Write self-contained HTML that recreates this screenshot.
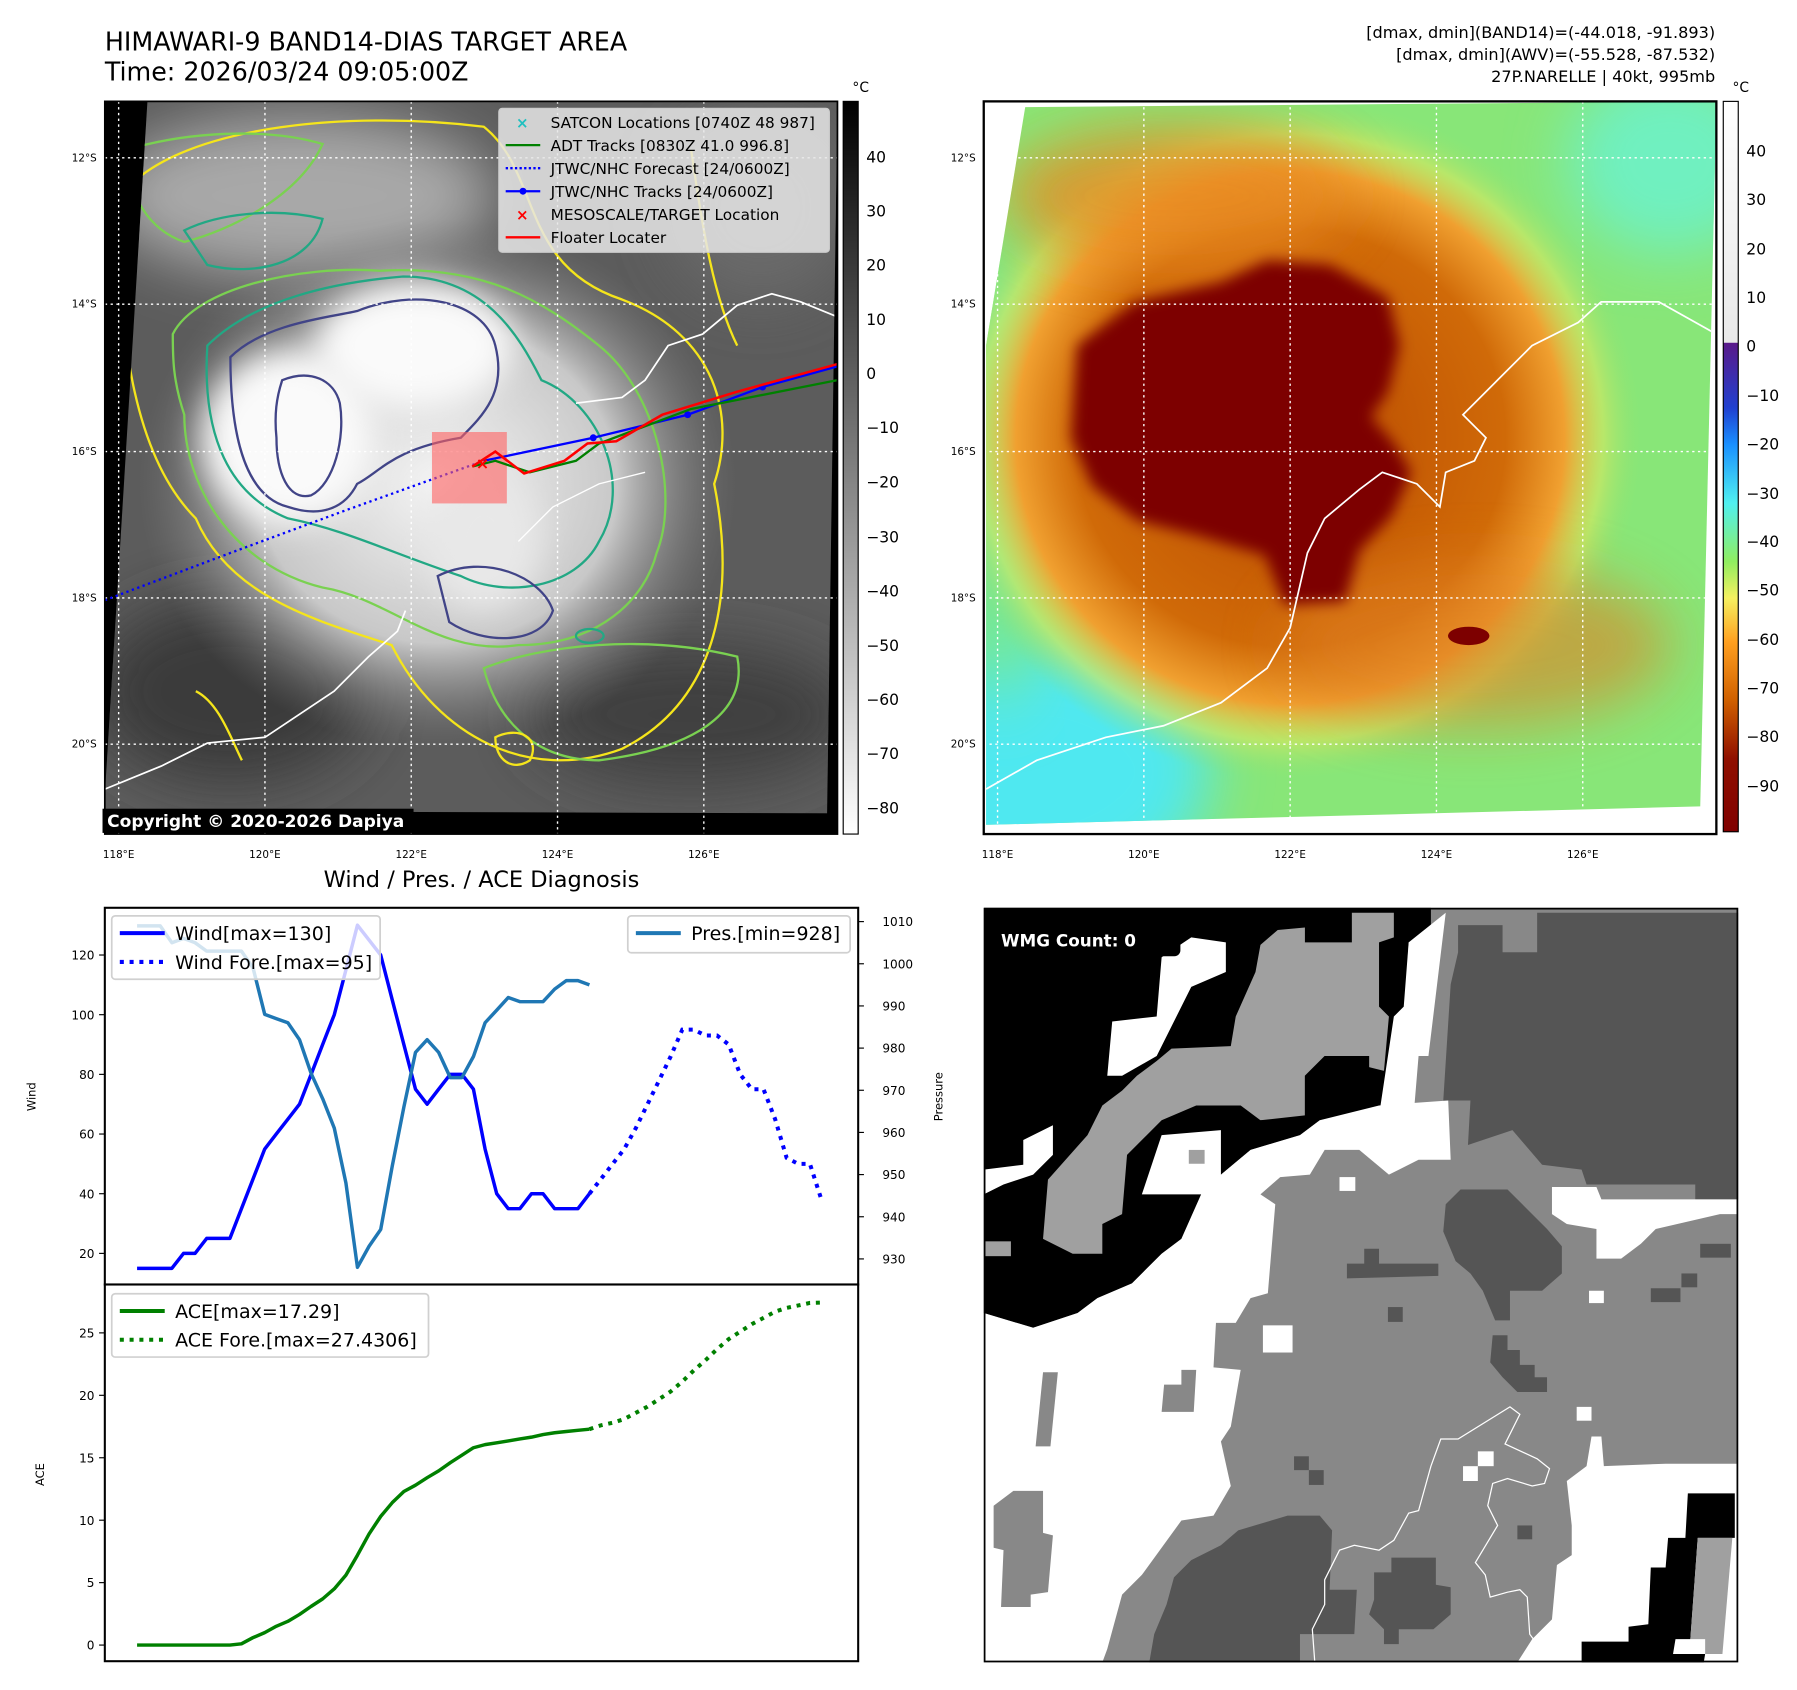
<!DOCTYPE html>
<html><head><meta charset="utf-8"><style>
html,body{margin:0;padding:0;background:#fff;}
svg{display:block;font-family:"DejaVu Sans","Liberation Sans",sans-serif;}
</style></head><body>
<svg id="root" width="1797" height="1690" viewBox="0 0 1560 1467" preserveAspectRatio="none" xmlns="http://www.w3.org/2000/svg">
<defs>
<filter id="b6" x="-20%" y="-20%" width="140%" height="140%"><feGaussianBlur stdDeviation="6"/></filter>
<filter id="b14" x="-30%" y="-30%" width="160%" height="160%"><feGaussianBlur stdDeviation="14"/></filter>
<filter id="b25" x="-40%" y="-40%" width="180%" height="180%"><feGaussianBlur stdDeviation="25"/></filter>
<linearGradient id="cbGray" x1="0" y1="0" x2="0" y2="1"><stop offset="0" stop-color="#000"/><stop offset="1" stop-color="#fff"/></linearGradient>
<linearGradient id="cbColor" x1="0" y1="0" x2="0" y2="1">
<stop offset="0" stop-color="#ffffff"/><stop offset="0.33" stop-color="#e8e8e8"/><stop offset="0.331" stop-color="#5a1a8a"/>
<stop offset="0.42" stop-color="#2040d0"/><stop offset="0.47" stop-color="#1a90ff"/><stop offset="0.55" stop-color="#50f0f0"/>
<stop offset="0.63" stop-color="#90ee60"/><stop offset="0.68" stop-color="#f5f060"/><stop offset="0.74" stop-color="#ffa020"/>
<stop offset="0.82" stop-color="#d06000"/><stop offset="0.90" stop-color="#901000"/><stop offset="1" stop-color="#800000"/></linearGradient>
<clipPath id="clipL"><polygon points="128,88 727,88 718,706 91,704 91,690"/></clipPath>
<clipPath id="clipR"><polygon points="890,93 1490,88 1476,700 856,716 856,300"/></clipPath>
<clipPath id="clipWmg"><rect x="0" y="0" width="1527" height="1527"/></clipPath>
<radialGradient id="ringG" cx="0.5" cy="0.5" r="0.5">
<stop offset="0" stop-color="#b84800"/><stop offset="0.55" stop-color="#d06a08"/><stop offset="0.7" stop-color="#f0a030"/><stop offset="0.8" stop-color="#d8e860" stop-opacity="0.6"/><stop offset="0.9" stop-color="#90e070" stop-opacity="0"/></radialGradient>
<radialGradient id="cloudG" cx="0.5" cy="0.5" r="0.5">
<stop offset="0" stop-color="#f4f4f4"/><stop offset="0.6" stop-color="#c8c8c8"/><stop offset="1" stop-color="#7a7a7a" stop-opacity="0"/></radialGradient>
</defs>

<text x="91" y="44" font-size="22">HIMAWARI-9 BAND14-DIAS TARGET AREA</text>
<text x="91" y="70" font-size="22">Time: 2026/03/24 09:05:00Z</text>
<text x="1489" y="33" font-size="14" text-anchor="end">[dmax, dmin](BAND14)=(-44.018, -91.893)</text>
<text x="1489" y="52" font-size="14" text-anchor="end">[dmax, dmin](AWV)=(-55.528, -87.532)</text>
<text x="1489" y="71" font-size="14" text-anchor="end">27P.NARELLE | 40kt, 995mb</text>

<g>
<rect x="91" y="88" width="636" height="636" fill="#000"/>
<g clip-path="url(#clipL)">
<rect x="80" y="80" width="660" height="660" fill="#5c5c5c"/>
<ellipse cx="200" cy="600" rx="120" ry="80" fill="#3a3a3a" filter="url(#b25)"/>
<ellipse cx="600" cy="620" rx="140" ry="60" fill="#404040" filter="url(#b25)"/>
<ellipse cx="660" cy="180" rx="80" ry="80" fill="#6a6a6a" filter="url(#b25)"/>
<ellipse cx="260" cy="170" rx="170" ry="70" fill="#a8a8a8" filter="url(#b25)"/>
<ellipse cx="380" cy="420" rx="260" ry="230" fill="url(#cloudG)"/>
<ellipse cx="250" cy="380" rx="75" ry="75" fill="#fafafa" filter="url(#b14)"/>
<ellipse cx="360" cy="300" rx="85" ry="55" fill="#fafafa" filter="url(#b14)"/>
<ellipse cx="420" cy="470" rx="50" ry="60" fill="#e8e8e8" filter="url(#b14)"/>
<g fill="none" stroke-width="2">
<path d="M105,170 C150,110 300,95 420,110 C470,150 450,230 540,260 C620,290 640,360 620,420 C640,520 620,610 540,650 C460,680 380,640 340,560 C280,540 200,520 170,450 C120,400 100,300 105,170 Z" stroke="#f5e51b"/>
<path d="M150,290 C170,250 260,230 330,235 C420,230 470,260 520,300 C570,340 590,430 570,480 C560,520 520,560 450,560 C380,570 340,520 280,510 C200,490 160,420 160,360 C150,330 150,310 150,290 Z" stroke="#7ad151"/>
<path d="M180,300 C220,260 290,245 350,240 C420,240 450,290 470,330 C520,350 550,420 520,470 C500,510 440,520 400,500 C340,480 300,460 250,450 C200,430 175,380 180,300 Z" stroke="#22a884"/>
<path d="M200,310 C230,280 290,275 310,270 C360,250 420,260 430,300 C440,340 420,360 400,380 C340,390 330,410 310,420 C300,440 280,450 250,440 C210,430 200,370 200,310 Z" stroke="#414487"/>
<path d="M245,330 C270,320 290,330 295,350 C300,380 290,420 270,430 C250,435 240,410 240,380 C238,360 240,345 245,330 Z" stroke="#414487"/>
<path d="M110,130 C160,115 230,110 280,125 C260,170 200,200 160,210 C130,200 110,170 110,130 Z" stroke="#7ad151"/>
<path d="M160,200 C190,185 240,180 280,190 C270,230 220,240 180,230 Z" stroke="#22a884"/>
<path d="M420,580 C470,560 560,550 640,570 C650,620 600,650 520,660 C460,660 430,620 420,580 Z" stroke="#7ad151"/>
<path d="M170,600 C190,610 200,640 210,660" stroke="#f5e51b"/>
<path d="M430,640 C450,630 470,640 460,660 C445,670 430,660 430,640 Z" stroke="#f5e51b"/>
<path d="M600,130 C610,200 620,260 640,300" stroke="#f5e51b"/>
<path d="M380,500 C420,480 470,500 480,530 C470,560 420,560 390,540 Z" stroke="#414487"/>
<ellipse cx="512" cy="552" rx="12" ry="6" stroke="#22a884"/>
</g>
<path d="M91,685 L140,665 L180,645 L230,640 L290,600 L320,570 L345,548 L352,530" fill="none" stroke="#fff" stroke-width="1.5"/>
<path d="M500,350 L540,345 L560,330 L580,300 L610,290 L640,265 L670,255 L695,262 L727,275" fill="none" stroke="#fff" stroke-width="1.5"/>
<path d="M450,470 L480,440 L520,420 L560,410" fill="none" stroke="#fff" stroke-width="1.2"/>
</g>
<g stroke="#fff" stroke-width="1.2" stroke-dasharray="2,3">
<line x1="103" y1="88" x2="103" y2="724"/><line x1="230" y1="88" x2="230" y2="724"/><line x1="357" y1="88" x2="357" y2="724"/><line x1="484" y1="88" x2="484" y2="724"/><line x1="611" y1="88" x2="611" y2="724"/>
<line x1="91" y1="137" x2="727" y2="137"/><line x1="91" y1="264" x2="727" y2="264"/><line x1="91" y1="392" x2="727" y2="392"/><line x1="91" y1="519" x2="727" y2="519"/><line x1="91" y1="646" x2="727" y2="646"/>
</g>
<g>
<polyline points="91,521 200,480 300,443 420,400" fill="none" stroke="#0000ff" stroke-width="2" stroke-dasharray="2,3"/>
<rect x="375" y="375" width="65" height="62" fill="#ff6060" fill-opacity="0.6"/>
<polyline points="420,400 515,380 597,360 662,336 727,318" fill="none" stroke="#0000ff" stroke-width="2"/>
<circle cx="515" cy="380" r="3" fill="#0000ff"/><circle cx="597" cy="360" r="3" fill="#0000ff"/><circle cx="662" cy="336" r="3" fill="#0000ff"/>
<polyline points="410,405 430,400 460,410 500,400 520,385 600,355 727,330" fill="none" stroke="#008000" stroke-width="2"/>
<polyline points="410,405 430,392 455,411 490,400 510,385 535,383 575,360 640,340 727,316" fill="none" stroke="#ff0000" stroke-width="2.2"/>
<text x="413" y="407" font-size="14" fill="#f00" font-weight="bold">×</text>
</g>
<g>
<rect x="433" y="94" width="287" height="125" rx="3" fill="#e6e6e6" fill-opacity="0.85" stroke="#ccc"/>
<text x="448" y="111" font-size="13" fill="#20c0c0" font-weight="bold">×</text>
<line x1="439" y1="126" x2="469" y2="126" stroke="#008000" stroke-width="2"/>
<line x1="439" y1="146" x2="469" y2="146" stroke="#0000ff" stroke-width="2" stroke-dasharray="2,2"/>
<line x1="439" y1="166" x2="469" y2="166" stroke="#0000ff" stroke-width="2"/><circle cx="454" cy="166" r="3" fill="#0000ff"/>
<text x="448" y="191" font-size="13" fill="#f00" font-weight="bold">×</text>
<line x1="439" y1="206" x2="469" y2="206" stroke="#f00" stroke-width="2"/>
<g font-size="13.3">
<text x="478" y="111">SATCON Locations [0740Z 48 987]</text>
<text x="478" y="131">ADT Tracks [0830Z 41.0 996.8]</text>
<text x="478" y="151">JTWC/NHC Forecast [24/0600Z]</text>
<text x="478" y="171">JTWC/NHC Tracks [24/0600Z]</text>
<text x="478" y="191">MESOSCALE/TARGET Location</text>
<text x="478" y="211">Floater Locater</text>
</g></g>
<rect x="89" y="702" width="270" height="21" fill="#000"/>
<text x="93" y="718" font-size="14.8" font-weight="bold" fill="#fff">Copyright © 2020-2026 Dapiya</text>
<rect x="91" y="88" width="636" height="636" fill="none" stroke="#000" stroke-width="1.5"/>
</g>
<g font-size="9" text-anchor="middle">
<text x="103" y="745">118°E</text><text x="230" y="745">120°E</text><text x="357" y="745">122°E</text><text x="484" y="745">124°E</text><text x="611" y="745">126°E</text></g>
<g font-size="9" text-anchor="end">
<text x="84" y="140">12°S</text><text x="84" y="267">14°S</text><text x="84" y="395">16°S</text><text x="84" y="522">18°S</text><text x="84" y="649">20°S</text></g>
<g>
<rect x="732" y="88" width="13" height="636" fill="url(#cbGray)" stroke="#000" stroke-width="1"/>
<text x="740" y="80" font-size="12">°C</text>
<g font-size="13.5"><text x="752" y="141">40</text><text x="752" y="188">30</text><text x="752" y="235">20</text><text x="752" y="282">10</text><text x="752" y="329">0</text><text x="752" y="376">−10</text><text x="752" y="423">−20</text><text x="752" y="471">−30</text><text x="752" y="518">−40</text><text x="752" y="565">−50</text><text x="752" y="612">−60</text><text x="752" y="659">−70</text><text x="752" y="706">−80</text></g>
</g>

<g>
<rect x="854" y="88" width="636" height="636" fill="#fff"/>
<g clip-path="url(#clipR)">
<rect x="850" y="80" width="650" height="650" fill="#88e678"/>
<ellipse cx="900" cy="670" rx="150" ry="110" fill="#50e8f0" filter="url(#b25)"/>
<ellipse cx="1450" cy="140" rx="90" ry="80" fill="#70f0c0" filter="url(#b25)"/>
<ellipse cx="870" cy="420" rx="30" ry="200" fill="#70e8a0" filter="url(#b25)"/>
<ellipse cx="1120" cy="380" rx="340" ry="330" fill="url(#ringG)"/>
<ellipse cx="1020" cy="170" rx="150" ry="60" fill="#e88a20" filter="url(#b25)" opacity="0.8"/>
<ellipse cx="1280" cy="560" rx="170" ry="70" fill="#e08020" filter="url(#b25)" opacity="0.6"/>
<path d="M935,300 L985,262 L1060,245 L1100,226 L1155,230 L1205,258 L1215,300 L1205,340 L1190,362 L1210,385 L1225,410 L1208,448 L1180,478 L1168,522 L1115,525 L1098,482 L1040,465 L988,452 L948,422 L930,380 Z" fill="#7d0000" filter="url(#b6)"/>
<ellipse cx="1275" cy="552" rx="18" ry="8" fill="#7d0000"/>
<path d="M856,685 L900,660 L960,640 L1010,630 L1060,610 L1100,580 L1120,545 L1135,480 L1150,450 L1180,425 L1200,410 L1230,420 L1250,440 L1255,410 L1280,400 L1290,380 L1270,360 L1300,330 L1330,300 L1370,280 L1390,262 L1440,262 L1490,290" fill="none" stroke="#fff" stroke-width="1.5"/>
</g>
<g stroke="#fff" stroke-width="1.2" stroke-dasharray="2,3">
<line x1="866" y1="88" x2="866" y2="724"/><line x1="993" y1="88" x2="993" y2="724"/><line x1="1120" y1="88" x2="1120" y2="724"/><line x1="1247" y1="88" x2="1247" y2="724"/><line x1="1374" y1="88" x2="1374" y2="724"/>
<line x1="854" y1="137" x2="1490" y2="137"/><line x1="854" y1="264" x2="1490" y2="264"/><line x1="854" y1="392" x2="1490" y2="392"/><line x1="854" y1="519" x2="1490" y2="519"/><line x1="854" y1="646" x2="1490" y2="646"/>
</g>
<rect x="854" y="88" width="636" height="636" fill="none" stroke="#000" stroke-width="2"/>
</g>
<g font-size="9" text-anchor="middle">
<text x="866" y="745">118°E</text><text x="993" y="745">120°E</text><text x="1120" y="745">122°E</text><text x="1247" y="745">124°E</text><text x="1374" y="745">126°E</text></g>
<g font-size="9" text-anchor="end">
<text x="847" y="140">12°S</text><text x="847" y="267">14°S</text><text x="847" y="395">16°S</text><text x="847" y="522">18°S</text><text x="847" y="649">20°S</text></g>
<g>
<rect x="1496" y="88" width="13" height="634" fill="url(#cbColor)" stroke="#000" stroke-width="1"/>
<text x="1504" y="80" font-size="12">°C</text>
<g font-size="13.5"><text x="1516" y="136">40</text><text x="1516" y="178">30</text><text x="1516" y="221">20</text><text x="1516" y="263">10</text><text x="1516" y="305">0</text><text x="1516" y="348">−10</text><text x="1516" y="390">−20</text><text x="1516" y="433">−30</text><text x="1516" y="475">−40</text><text x="1516" y="517">−50</text><text x="1516" y="560">−60</text><text x="1516" y="602">−70</text><text x="1516" y="644">−80</text><text x="1516" y="687">−90</text></g>
</g>

<svg x="854" y="788" width="655" height="655" viewBox="0 0 1527 1527" preserveAspectRatio="none">
<g clip-path="url(#clipWmg)">
<rect x="0" y="0" width="1527" height="1527" fill="#888"/>
<polygon fill="#000" points="0,0 905,0 905,60 860,70 840,400 680,430 640,460 540,490 480,540 440,580 400,670 360,700 330,730 300,760 230,790 190,820 100,850 0,820"/>
<polygon fill="#a0a0a0" points="120,670 130,550 210,460 240,400 280,370 310,340 350,310 380,285 500,280 510,220 550,130 560,75 595,45 650,40 650,70 745,70 745,10 830,10 830,60 800,70 800,200 820,220 810,330 690,300 650,340 650,420 560,430 520,400 430,400 360,430 330,460 290,500 280,620 240,640 240,700 180,700"/>
<polygon fill="#000" points="480,450 560,430 650,430 650,340 690,300 780,300 780,330 830,330 800,400 680,430 640,460 540,490 480,540"/>
<polygon fill="#555" points="960,35 1050,35 1050,90 1120,90 1120,10 1527,10 1527,590 1440,590 1440,560 1220,560 1210,530 1130,520 1070,450 980,480 985,390 930,390 945,155 960,90"/>
<g fill="#fff">
<polygon points="0,820 100,850 190,820 230,790 300,760 330,730 360,700 400,670 440,580 320,580 360,460 480,450 480,540 540,490 640,460 680,430 800,400 940,390 945,510 880,510 820,540 760,490 690,490 660,540 600,545 560,580 590,600 575,780 540,790 510,840 470,840 465,930 520,935 500,1050 480,1080 500,1170 465,1230 400,1240 320,1350 280,1390 250,1500 240,1527 0,1527"/>
<polygon points="860,70 935,10 900,300 880,300 870,420 800,420 830,220 850,200"/>
<polygon points="260,230 350,220 360,100 420,60 490,70 490,130 420,160 390,220 350,300 280,340 250,340"/>
<polygon points="0,530 80,520 80,470 140,440 140,500 100,540 40,560 0,580"/>
<polygon points="1150,565 1240,565 1250,590 1527,590 1527,620 1490,620 1360,650 1330,680 1290,710 1240,710 1240,650 1180,640 1150,620"/>
<polygon points="1230,1070 1250,1070 1255,1130 1380,1125 1527,1125 1527,1527 1080,1527 1110,1480 1150,1440 1160,1330 1190,1310 1190,1250 1180,1160 1220,1130"/>
<rect x="565" y="845" width="60" height="55"/><rect x="720" y="545" width="32" height="28"/><rect x="1225" y="775" width="30" height="25"/><rect x="1200" y="1010" width="30" height="28"/><rect x="970" y="1130" width="30" height="30"/><rect x="1000" y="1100" width="32" height="30"/>
</g>
<g fill="#888">
<polygon points="20,1210 60,1180 120,1180 120,1265 140,1270 130,1385 95,1390 95,1415 35,1415 40,1300 20,1295"/>
<polygon points="120,940 150,940 135,1090 105,1090"/>
<polygon points="365,965 400,965 400,935 430,935 425,1020 360,1020"/>
</g>
<g fill="#a0a0a0"><rect x="0" y="675" width="55" height="30"/><rect x="415" y="490" width="32" height="28"/></g>
<g fill="#555">
<polygon points="935,600 965,570 1060,570 1090,600 1140,650 1170,685 1170,740 1130,775 1065,775 1065,835 1035,835 1010,775 985,740 955,715 930,655"/>
<polygon points="735,720 770,720 770,690 800,690 800,720 920,720 920,745 735,750"/>
<polygon points="335,1527 345,1470 370,1410 385,1355 420,1320 480,1290 515,1260 615,1230 680,1230 705,1260 700,1380 755,1380 750,1470 640,1470 640,1527"/>
<polygon points="790,1345 825,1345 825,1315 915,1315 915,1370 945,1375 945,1430 910,1460 840,1460 840,1490 810,1490 810,1460 780,1430 790,1400"/>
<polygon points="1030,865 1060,865 1060,895 1085,895 1085,925 1115,925 1115,950 1140,950 1140,980 1080,980 1050,950 1025,920"/>
<rect x="1450" y="680" width="62" height="28"/><rect x="1350" y="770" width="60" height="28"/><rect x="1412" y="740" width="32" height="28"/>
<rect x="818" y="808" width="30" height="30"/><rect x="628" y="1110" width="30" height="28"/><rect x="658" y="1138" width="30" height="30"/><rect x="1080" y="1250" width="30" height="28"/>
</g>
<polygon fill="#000" points="1425,1185 1520,1185 1520,1275 1445,1275 1430,1480 1400,1480 1395,1510 1460,1510 1455,1540 1210,1540 1210,1485 1305,1485 1305,1455 1345,1450 1350,1335 1380,1335 1385,1275 1420,1275"/>
<polygon fill="#a0a0a0" points="1445,1275 1515,1275 1495,1510 1460,1510 1460,1480 1430,1480"/>
<path d="M670,1527 L665,1460 L690,1410 L690,1360 L720,1300 L750,1290 L800,1300 L830,1280 L860,1225 L880,1220 L905,1130 L925,1075 L960,1075 L1065,1010 L1085,1025 L1055,1085 L1120,1115 L1145,1135 L1135,1165 L1110,1170 L1060,1155 L1030,1165 L1020,1210 L1040,1250 L995,1325 L1015,1350 L1025,1395 L1060,1385 L1085,1380 L1100,1395 L1105,1470 L1120,1490" fill="none" stroke="#fff" stroke-width="2.5"/>
</g>
<rect x="1" y="1" width="1525" height="1525" fill="none" stroke="#000" stroke-width="5"/>
<rect x="18" y="38" width="380" height="60" rx="12" fill="#000"/>
<text x="35" y="78" font-size="34" font-weight="bold" fill="#fff">WMG Count: 0</text>
</svg>

<text x="418" y="770" font-size="19.5" text-anchor="middle">Wind / Pres. / ACE Diagnosis</text>
<g id="chart"></g>
</svg>
<script>
const windObs = [15,15,15,15,20,20,25,25,25,35,45,55,60,65,70,80,90,100,115,130,125,120,105,90,75,70,75,80,80,75,55,40,35,35,40,40,35,35,35,40];
const windFore = [40,45,50,55,62,70,78,86,95,95,93,93,90,80,75,75,65,52,50,50,38];
const presObs = [1009,1009,1009,1005,1006,1005,1003,1003,1003,1003,999,988,987,986,982,974,968,961,948,928,933,937,952,966,979,982,979,973,973,978,986,989,992,991,991,991,994,996,996,995];
const aceObs = [0,0,0,0,0,0,0,0,0,0.1,0.6,1.0,1.5,1.9,2.45,3.1,3.7,4.5,5.6,7.2,8.9,10.3,11.4,12.3,12.8,13.4,13.95,14.6,15.2,15.8,16.05,16.2,16.35,16.5,16.65,16.85,17.0,17.1,17.2,17.29];
const aceFore = [17.29,17.6,17.8,18.1,18.6,19.1,19.7,20.3,21.1,22.0,22.8,23.7,24.5,25.1,25.7,26.2,26.7,27.0,27.2,27.4,27.43];
const windTicks = [20,40,60,80,100,120];
const presTicks = [930,940,950,960,970,980,990,1000,1010];
const aceTicks = [0,5,10,15,20,25];

const NS = 'http://www.w3.org/2000/svg';
const chart = document.getElementById('chart');
function xS(i){ return 119 + i*10.07; }
function yW(v){ return 829 + (120-v)*2.59; }
function yP(p){ return 800 + (1010-p)*3.66; }
function yA(a){ return 1428 - a*10.84; }
function mk(tag, attrs, parent){
  const e = document.createElementNS(NS, tag);
  for (const k in attrs) e.setAttribute(k, attrs[k]);
  (parent||chart).appendChild(e);
  return e;
}
function pts(arr, off, yf){ return arr.map((v,i)=>xS(i+off).toFixed(1)+','+yf(v).toFixed(1)).join(' '); }

let f1 = mk('rect',{x:91,y:788,width:654,height:327,fill:'none',stroke:'#000','stroke-width':1.8});


let f2 = mk('rect',{x:91,y:1115,width:654,height:327,fill:'none',stroke:'#000','stroke-width':1.8});



windTicks.forEach(v=>{
  mk('line',{x1:86,x2:91,y1:yW(v),y2:yW(v),stroke:'#000'});
  const t = mk('text',{x:82,y:yW(v)+4,'font-size':10.5,'text-anchor':'end'});
  t.textContent = v;
  
  
});
presTicks.forEach(v=>{
  mk('line',{x1:745,x2:750,y1:yP(v),y2:yP(v),stroke:'#000'});
  const t = mk('text',{x:766,y:yP(v)+4,'font-size':10.5});
  t.textContent = v;
  
  
});
aceTicks.forEach(v=>{
  mk('line',{x1:86,x2:91,y1:yA(v),y2:yA(v),stroke:'#000'});
  const t = mk('text',{x:82,y:yA(v)+4,'font-size':10.5,'text-anchor':'end'});
  t.textContent = v;
  
  
});
let yl1 = mk('text',{x:0,y:0,'font-size':10,'text-anchor':'middle',transform:'translate(31,952) rotate(-90)'});
yl1.textContent='Wind';


let yl2 = mk('text',{x:0,y:0,'font-size':10,'text-anchor':'middle',transform:'translate(818,952) rotate(-90)'});
yl2.textContent='Pressure';


let yl3 = mk('text',{x:0,y:0,'font-size':10,'text-anchor':'middle',transform:'translate(38,1280) rotate(-90)'});
yl3.textContent='ACE';



let lw = mk('polyline',{points:pts(windObs,0,yW),fill:'none',stroke:'#0000ff','stroke-width':3,'stroke-linejoin':'round'});


let lwf = mk('polyline',{points:pts(windFore,39,yW),fill:'none',stroke:'#0000ff','stroke-width':3.5,'stroke-dasharray':'3.5,5'});


let lp = mk('polyline',{points:pts(presObs,0,yP),fill:'none',stroke:'#1f77b4','stroke-width':3,'stroke-linejoin':'round'});


let la = mk('polyline',{points:pts(aceObs,0,yA),fill:'none',stroke:'#008000','stroke-width':3,'stroke-linejoin':'round'});


let laf = mk('polyline',{points:pts(aceFore,39,yA),fill:'none',stroke:'#008000','stroke-width':3.5,'stroke-dasharray':'3.5,5'});



function legend(x,y,w,h,items,name){
  const g = mk('g',{});
  
  
  mk('rect',{x:x,y:y,width:w,height:h,rx:3,fill:'#fff','fill-opacity':0.8,stroke:'#d0d0d0','stroke-width':1.5},g);
  items.forEach((it,k)=>{
    const yy = y+15+k*25;
    mk('line',{x1:x+7,x2:x+46,y1:yy,y2:yy,stroke:it.c,'stroke-width':3.5,'stroke-dasharray':it.d?'3.5,5':'none'},g);
    const t = mk('text',{x:x+55,y:yy+6,'font-size':16.5},g);
    t.textContent = it.t;
  });
}
legend(97,795,233,55,[{c:'#0000ff',t:'Wind[max=130]'},{c:'#0000ff',t:'Wind Fore.[max=95]',d:1}],'wind-legend');
legend(545,795,193,32,[{c:'#1f77b4',t:'Pres.[min=928]'}],'pressure-legend');
legend(97,1123,275,55,[{c:'#008000',t:'ACE[max=17.29]'},{c:'#008000',t:'ACE Fore.[max=27.4306]',d:1}],'ace-legend');
</script>
</body></html>
